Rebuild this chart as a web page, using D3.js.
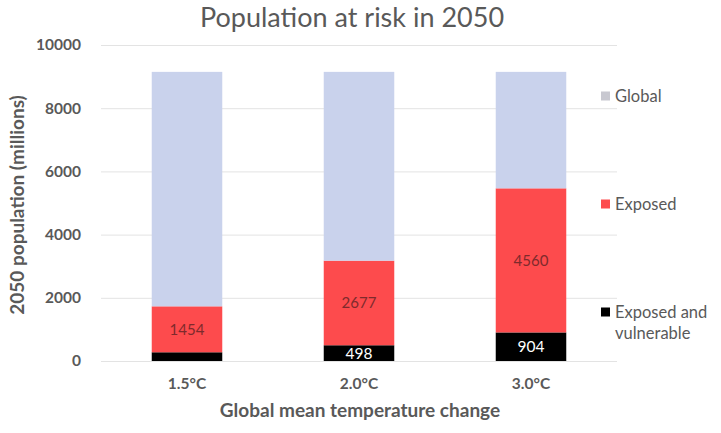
<!DOCTYPE html>
<html>
<head>
<meta charset="utf-8">
<script src="https://cdn.jsdelivr.net/npm/d3@7"></script>
<style>
  html, body { margin: 0; padding: 0; background: #ffffff; }
  svg { display: block; font-family: Lato, "Open Sans", sans-serif; }
</style>
</head>
<body>
<svg id="chart" width="721" height="433"></svg>
<script>
// Scenarios and population figures (millions)
const categories = ["1.5°C", "2.0°C", "3.0°C"];
const exposedVulnerable = [276, 498, 904];
const exposed = [1454, 2677, 4560];
const globalTotal = [9150, 9150, 9150];
const yTicks = [0, 2000, 4000, 6000, 8000, 10000];

const seriesNames = ["Exposed and vulnerable", "Exposed", "Global"];
const colors = { "Exposed and vulnerable": "#000000", "Exposed": "#fd4b4d", "Global": "#c9d2ec" };
const legendColors = { "Exposed and vulnerable": "#000000", "Exposed": "#fd4b4d", "Global": "#c8c8d0" };

const rows = categories.map((c, i) => ({
  cat: c,
  "Exposed and vulnerable": exposedVulnerable[i],
  "Exposed": exposed[i],
  "Global": globalTotal[i] - exposed[i] - exposedVulnerable[i]
}));

const svg = d3.select("#chart");
const margin = { left: 101, right: 104, top: 45, bottom: 72 };
const W = 721, H = 433;

const x = d3.scaleBand().domain(categories).range([margin.left, W - margin.right]).paddingInner(0.59).paddingOuter(0.295);
const y = d3.scaleLinear().domain([0, 10000]).range([H - margin.bottom, margin.top]);

// Gridlines
svg.append("g").selectAll("line").data(yTicks).join("line")
  .attr("x1", margin.left).attr("x2", W - margin.right)
  .attr("y1", d => y(d) + 0.5).attr("y2", d => y(d) + 0.5)
  .attr("stroke", "#e3e3e3").attr("stroke-width", 1);

// Y axis labels
const yAxis = svg.append("g").attr("transform", `translate(${margin.left - 17},0)`)
  .call(d3.axisLeft(y).tickValues(yTicks).tickSize(0).tickFormat(d3.format("d")));
yAxis.select(".domain").remove();
yAxis.selectAll("text").attr("fill", "#595959").attr("font-size", 15.5).attr("font-weight", "bold")
  .attr("font-family", "Lato, sans-serif");

// Stacked bars
const stack = d3.stack().keys(seriesNames)(rows);
const layers = svg.append("g").selectAll("g").data(stack).join("g")
  .attr("fill", d => colors[d.key]);
layers.selectAll("rect").data(d => d).join("rect")
  .attr("x", d => x(d.data.cat))
  .attr("width", x.bandwidth())
  .attr("y", d => y(d[1]))
  .attr("height", d => y(d[0]) - y(d[1]));

// Value labels
const evLayer = stack[0];
svg.append("g").selectAll("text").data(evLayer.filter(d => d[1] - d[0] > 400)).join("text")
  .attr("x", d => x(d.data.cat) + x.bandwidth() / 2)
  .attr("y", d => (y(d[0]) + y(d[1])) / 2)
  .attr("dy", "0.36em").attr("text-anchor", "middle")
  .attr("fill", "#ffffff").attr("font-size", 15.5)
  .text(d => d[1] - d[0]);

const exLayer = stack[1];
svg.append("g").selectAll("text").data(exLayer).join("text")
  .attr("x", d => x(d.data.cat) + x.bandwidth() / 2)
  .attr("y", d => (y(d[0]) + y(d[1])) / 2)
  .attr("dy", "0.36em").attr("text-anchor", "middle")
  .attr("fill", "#7e2a2c").attr("font-size", 15)
  .text(d => d[1] - d[0]);

// X axis labels
const xAxis = svg.append("g").attr("transform", `translate(0,${H - margin.bottom + 14})`)
  .call(d3.axisBottom(x).tickSize(0));
xAxis.select(".domain").remove();
xAxis.selectAll("text").attr("fill", "#595959").attr("font-size", 15.5).attr("font-weight", "bold")
  .attr("font-family", "Lato, sans-serif");

// Titles
svg.append("text").attr("x", 352).attr("y", 27).attr("text-anchor", "middle")
  .attr("fill", "#595959").attr("font-size", 27).text("Population at risk in 2050");
svg.append("text").attr("x", 360).attr("y", 417).attr("text-anchor", "middle")
  .attr("fill", "#595959").attr("font-size", 19).attr("font-weight", "bold")
  .text("Global mean temperature change");
svg.append("text").attr("transform", "translate(24,205) rotate(-90)").attr("text-anchor", "middle")
  .attr("fill", "#595959").attr("font-size", 19).attr("font-weight", "bold")
  .text("2050 population (millions)");

// Legend
const legendItems = [
  { key: "Global", y: 96, lines: ["Global"] },
  { key: "Exposed", y: 204, lines: ["Exposed"] },
  { key: "Exposed and vulnerable", y: 312, lines: ["Exposed and", "vulnerable"] }
];
const lg = svg.append("g").selectAll("g").data(legendItems).join("g");
lg.append("rect").attr("x", 601).attr("y", d => d.y - 4.5).attr("width", 9).attr("height", 9)
  .attr("fill", d => legendColors[d.key]);
lg.each(function(d) {
  const t = d3.select(this).append("text").attr("x", 615).attr("y", d.y)
    .attr("fill", "#595959").attr("font-size", 16.5);
  d.lines.forEach((l, i) => t.append("tspan").attr("x", 615).attr("dy", i === 0 ? "0.36em" : "1.3em").text(l));
});
</script>
</body>
</html>
